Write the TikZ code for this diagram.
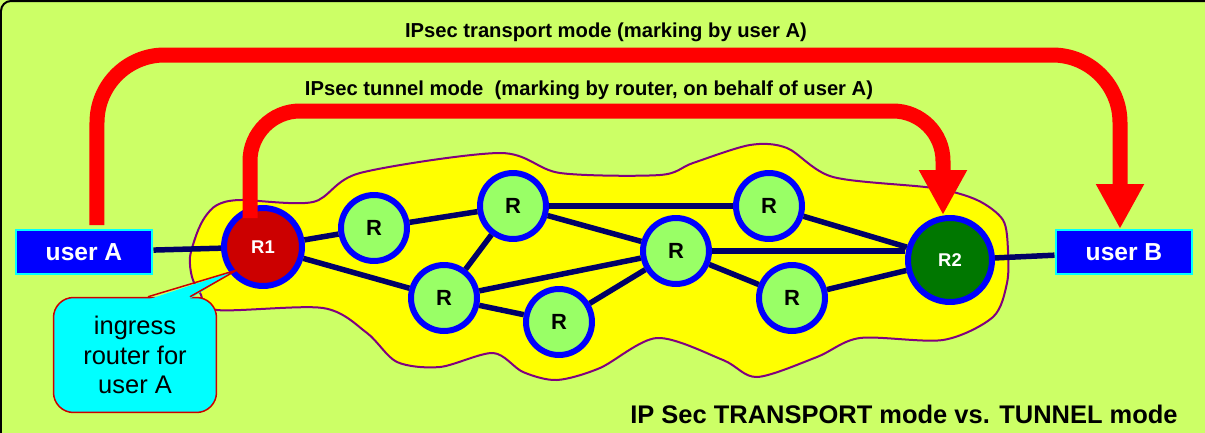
\documentclass[tikz,border=0pt]{standalone}
\usepackage{fontspec}
\setmainfont{Liberation Sans}
\usepackage{tikz}
\usetikzlibrary{arrows.meta}

\definecolor{bggreen}{HTML}{CCFF66}
\definecolor{cloudyellow}{HTML}{FFFF00}
\definecolor{cloudline}{HTML}{800080}
\definecolor{routergreen}{HTML}{99FF66}
\definecolor{ringblue}{HTML}{0000FF}
\definecolor{linknavy}{HTML}{000066}
\definecolor{ingressred}{HTML}{CC0000}
\definecolor{egressgreen}{HTML}{007700}
\definecolor{flowred}{HTML}{FF0000}
\definecolor{calloutred}{HTML}{CC0000}
\definecolor{notecyan}{HTML}{00FFFF}
\definecolor{userblue}{HTML}{0000FF}

\begin{document}
\begin{tikzpicture}[x=0.02cm, y=-0.02cm,
    router/.style={circle, draw=ringblue, fill=routergreen, line width=0.12cm, minimum size=1.32cm, inner sep=0pt, font=\fontsize{12.5}{15}\selectfont\bfseries},
    edgerouter/.style={router, text=white, minimum size=1.56cm, font=\fontsize{10.5}{12}\selectfont\bfseries},
    link/.style={draw=linknavy, line width=0.11cm},
    userbox/.style={draw=notecyan, fill=userblue, line width=0.04cm, minimum width=2.74cm, minimum height=0.88cm, inner sep=0pt, text=white, font=\fontsize{14}{16}\selectfont\bfseries},
    flow/.style={draw=flowred, line width=0.3cm, -{Triangle[width=0.9cm,length=0.9cm]}},
    caption/.style={font=\fontsize{11.5}{14}\selectfont\bfseries},
    note/.style={draw=calloutred, fill=notecyan, line width=0.03cm, rounded corners=0.4cm, minimum width=3.26cm, minimum height=2.3cm, align=center, font=\fontsize{14.5}{17}\selectfont},
]
    \useasboundingbox (0,0) rectangle (1205,433);
    \clip (0,0) rectangle (1205,433);
    \fill[bggreen] (0,0) rectangle (1205,433);
    \draw[line width=0.04cm, rounded corners=0.2cm] (1,1) rectangle (1260,480);

    \draw[draw=cloudline, fill=cloudyellow, line width=0.04cm] plot[smooth cycle, tension=0.5] coordinates {
        (240,200) (313,202) (360,173) (500,153) (560,173) (660,175) (693,163)
        (750,145) (787,148) (833,177) (933,188) (977,200) (1003,220) (1008,250)
        (1007,283) (993,317) (943,340) (860,338) (817,357) (757,377) (723,360)
        (657,338) (600,368) (557,380) (523,372) (493,353) (440,367) (397,362)
        (367,333) (323,308) (217,310) (200,293) (192,277) (190,257) (197,233)
        (205,217) (217,205)};

    \node[userbox] (userA) at (84,252) {user A};
    \node[userbox] (userB) at (1124,252) {user B};

    \node[edgerouter, fill=ingressred] (ingress) at (263,247) {R1};
    \node[router] (r1) at (374,228) {R};
    \node[router] (r2) at (513,206) {R};
    \node[router] (r3) at (444,298) {R};
    \node[router] (r4) at (559,322) {R};
    \node[router] (r5) at (676,251) {R};
    \node[router] (r6) at (769,206) {R};
    \node[router] (r7) at (792,298) {R};
    \node[edgerouter, fill=egressgreen, minimum size=1.68cm] (egress) at (950,260) {R2};

    \draw[link] (userA) -- (ingress);
    \draw[link] (ingress) -- (r1);
    \draw[link] (ingress) -- (r3);
    \draw[link] (r1) -- (r2);
    \draw[link] (r2) -- (r3);
    \draw[link] (r2) -- (r6);
    \draw[link] (r2) -- (r5);
    \draw[link] (r3) -- (r5);
    \draw[link] (r3) -- (r4);
    \draw[link] (r4) -- (r5);
    \draw[link] (r6) -- (egress);
    \draw[link] (r5.east) -- (r5.east -| egress.west);
    \draw[link] (r5) -- (r7);
    \draw[link] (r7) -- (egress);
    \draw[link] (egress) -- (userB);

    \node[caption] (lblTransport) at (606,32) {IPsec transport mode (marking by user A)};
    \node[caption] (lblTunnel) at (589,90) {IPsec tunnel mode \ (marking by router, on behalf of user A)};
    \node[font=\fontsize{14.5}{17}\selectfont\bfseries] (title) at (904,414) {IP Sec TRANSPORT mode vs. TUNNEL mode};

    \coordinate (trStart) at ([xshift=0.26cm,yshift=0.08cm]userA.north);
    \coordinate (trEnd) at ([xshift=-0.08cm]userB.north);
    \coordinate (trTop) at (600,55);
    \draw[flow, rounded corners=1.35cm] (trStart) -- (trStart |- trTop) -- (trEnd |- trTop) -- (trEnd);

    \coordinate (tnStart) at ([xshift=-0.26cm,yshift=-0.26cm]ingress.north);
    \coordinate (tnEnd) at ([xshift=-0.14cm]egress.north);
    \coordinate (tnTop) at (600,111);
    \draw[flow, rounded corners=1.0cm] (tnStart) -- (tnStart |- tnTop) -- (tnEnd |- tnTop) -- (tnEnd);

    \node[note] (note) at (135,355) {ingress\\router for\\user A};
    \coordinate (noteTip) at (237,270);
    \fill[notecyan] ([xshift=0.28cm,yshift=-0.05cm]note.north) -- (noteTip) -- ([xshift=1.08cm,yshift=-0.05cm]note.north) -- cycle;
    \draw[draw=calloutred, line width=0.03cm] ([xshift=0.26cm]note.north) -- (noteTip) -- ([xshift=1.1cm]note.north);
\end{tikzpicture}
\end{document}
